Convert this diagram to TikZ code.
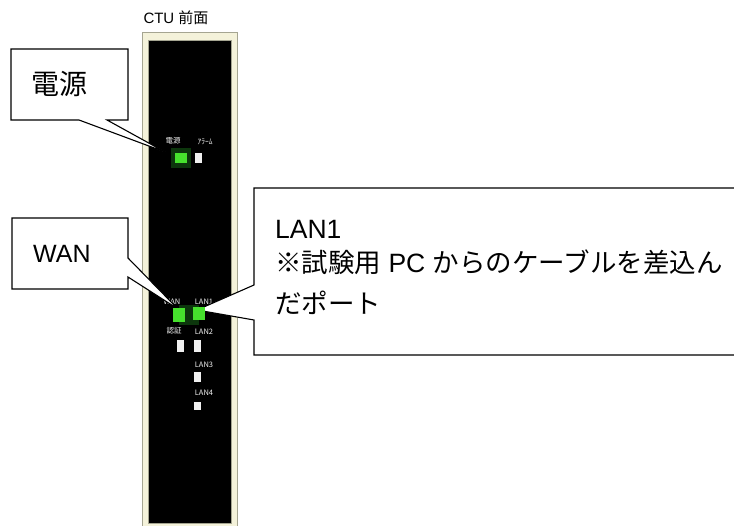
\documentclass[tikz,border=0pt]{standalone}
\usepackage{fontspec}
\setmainfont{Liberation Sans}
\newfontfamily\jpfont{Noto Sans CJK JP}
\usetikzlibrary{positioning}
\definecolor{panelcream}{RGB}{244,242,218}
\definecolor{panelline}{RGB}{165,165,145}
\definecolor{ledgreen}{RGB}{70,225,45}
\definecolor{ledglow}{RGB}{20,90,20}

\begin{document}
\begin{tikzpicture}[
    x=1pt, y=-1pt,
    callout/.style={draw=black, fill=white, line width=1.1pt, line join=miter},
    calltext/.style={font=\fontsize{26.5}{26.5}\selectfont, inner sep=0pt, anchor=west},
    ledlabel/.style={text=white!90!gray, font=\jpfont\fontsize{7.5}{7.5}\selectfont, inner sep=0pt},
    ledon/.style={fill=ledgreen, minimum width=12pt, minimum height=12pt, inner sep=0pt},
    glow/.style={fill=ledglow, opacity=0.6, minimum width=20pt, minimum height=20pt, inner sep=0pt},
    ledoff/.style={fill=white!88!gray, minimum width=7pt, minimum height=10pt, inner sep=0pt}
]
    \useasboundingbox (0,0) rectangle (734,526);

    % CTU front panel
    \node[font=\fontsize{15}{15}\selectfont, inner sep=0pt] (title) at (176,18) {CTU {\jpfont 前面}};
    \draw[panelline, fill=panelcream] (142,32) rectangle (237,529);
    \draw[panelline, fill=black] (148,40) rectangle (231,523);

    % Port labels
    \node[ledlabel] (powerlabel) at (173,141) {電源};
    \node[ledlabel] (alarmlabel) at (205,142) {ｱﾗｰﾑ};
    \node[ledlabel] (wanlabel) at (172,302) {WAN};
    \node[ledlabel] (lan1label) at (204,302) {LAN1};
    \node[ledlabel] (authlabel) at (174,331) {認証};
    \node[ledlabel] (lan2label) at (204,332) {LAN2};
    \node[ledlabel] (lan3label) at (204,365) {LAN3};
    \node[ledlabel] (lan4label) at (204,393) {LAN4};
    \node[glow] at (181,158) {};
    \node[glow] at (189,315) {};

    % Power callout
    \coordinate (powertip) at (165,152);
    \draw[callout] (11,49) -- (128,49) -- (128,120) -- (107,120) -- (powertip) -- (79,120) -- (11,120) -- cycle;
    \node[calltext, font=\jpfont\fontsize{28}{28}\selectfont] (powertext) at (31,84) {電源};

    % WAN callout
    \coordinate (wantip) at (178,309);
    \draw[callout] (12,218) -- (128,218) -- (128,258) -- (wantip) -- (128,277) -- (128,289) -- (12,289) -- cycle;
    \node[calltext, font=\fontsize{25}{25}\selectfont] (wantext) at (33,254) {WAN};

    % LAN1 callout (runs off the right edge)
    \coordinate (lantip) at (197,310);
    \draw[callout] (734,188) -- (254,188) -- (254,285) -- (lantip) -- (254,320) -- (254,355) -- (734,355);
    \node[calltext] (lanname) at (275,229) {LAN1};
    \node[calltext] (lannote) at (275,262) {{\jpfont ※試験用} PC {\jpfont からのケーブルを差込ん}};
    \node[calltext] (lannotecont) at (275,303) {{\jpfont だポート}};

    % LEDs
    \node[ledon, minimum height=10pt] (ledpower) at (181,158) {};
    \node[ledoff] (ledalarm) at (198.5,158) {};
    \node[ledon, minimum height=14pt] (ledwan) at (179,315) {};
    \node[ledon, minimum height=13pt] (ledlan1) at (199,314) {};
    \node[ledoff, minimum height=12pt] (ledauth) at (180,346) {};
    \node[ledoff, minimum height=12pt] (ledlan2) at (197.5,346) {};
    \node[ledoff] (ledlan3) at (197.5,377) {};
    \node[ledoff, minimum height=8pt] (ledlan4) at (197.5,406) {};

\end{tikzpicture}
\end{document}
